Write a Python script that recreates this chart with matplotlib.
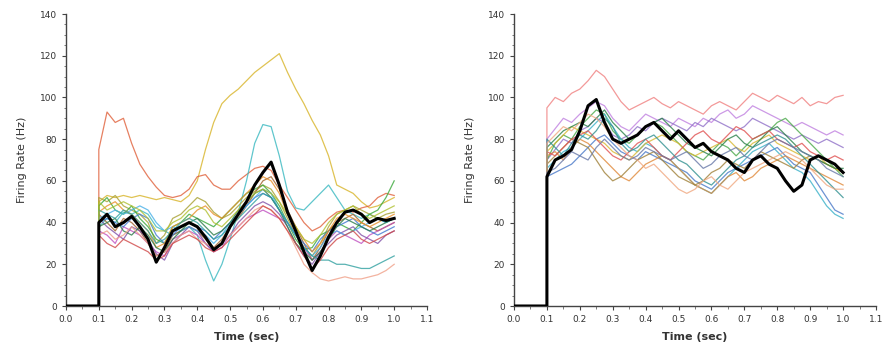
import numpy as np
import matplotlib
matplotlib.use('Agg')
import matplotlib.pyplot as plt
from matplotlib.ticker import MultipleLocator

# time grid of the traces (sec), sampled every 0.025 s from stimulus onset
t = np.round(np.arange(0.1, 1.0001, 0.025), 3)

# ── Left panel: firing rates (Hz) ──────────────────────────────────────────
L_black  = [40, 44, 38, 40, 43, 38, 32, 21, 28, 36, 38, 40, 38, 33, 27, 30, 38, 44, 50, 58,
            64, 69, 58, 45, 36, 26, 17, 24, 33, 40, 45, 46, 44, 40, 42, 41, 42]
L_yellow = [50, 53, 52, 53, 52, 53, 52, 51, 52, 51, 50, 53, 60, 75, 88, 97, 101, 104, 108, 112,
            115, 118, 121, 112, 104, 97, 89, 82, 72, 58, 56, 54, 50, 47, 48, 50, 52]
L_red    = [75, 93, 88, 90, 78, 68, 62, 57, 53, 52, 53, 56, 62, 63, 58, 56, 56, 60, 63, 66,
            67, 65, 58, 52, 46, 40, 36, 38, 42, 45, 46, 45, 47, 48, 52, 54, 53]
L_cyan   = [38, 42, 40, 45, 44, 46, 44, 38, 36, 34, 36, 38, 34, 22, 12, 20, 32, 45, 60, 78,
            87, 86, 72, 55, 47, 46, 50, 54, 58, 52, 46, 44, 42, 44, 42, 40, 42]
L_olive  = [52, 50, 53, 48, 46, 44, 40, 30, 34, 42, 44, 48, 52, 50, 45, 42, 44, 48, 52, 55,
            58, 56, 50, 42, 34, 28, 24, 30, 38, 44, 46, 48, 46, 44, 42, 44, 45]
L_green  = [48, 52, 46, 44, 48, 42, 38, 32, 30, 38, 40, 44, 42, 40, 38, 42, 46, 50, 54, 56,
            58, 54, 48, 40, 32, 27, 28, 34, 36, 40, 38, 36, 40, 44, 46, 52, 60]
L_brown  = [44, 40, 36, 42, 40, 36, 30, 24, 26, 34, 36, 38, 36, 32, 28, 32, 38, 42, 48, 54,
            60, 62, 56, 46, 38, 30, 22, 28, 36, 40, 42, 44, 40, 38, 36, 38, 40]
L_magenta = [36, 34, 30, 38, 36, 34, 30, 26, 24, 32, 34, 36, 34, 30, 26, 28, 34, 38, 42, 44,
             46, 44, 42, 40, 34, 28, 22, 26, 32, 36, 34, 32, 30, 34, 36, 38, 40]
L_purple = [42, 38, 35, 32, 38, 36, 32, 25, 22, 30, 34, 38, 36, 30, 26, 30, 34, 40, 44, 48,
            50, 48, 44, 38, 30, 24, 20, 26, 30, 34, 36, 38, 34, 32, 30, 34, 36]
L_blue   = [40, 42, 40, 38, 42, 44, 42, 34, 30, 34, 38, 40, 38, 36, 32, 36, 40, 44, 48, 52,
            54, 52, 46, 40, 34, 30, 26, 32, 36, 38, 40, 42, 38, 36, 34, 36, 38]
L_sky    = [42, 44, 46, 44, 46, 48, 46, 40, 36, 38, 36, 38, 36, 34, 30, 34, 40, 44, 48, 52,
            56, 54, 46, 40, 34, 28, 24, 28, 34, 36, 34, 36, 38, 40, 42, 40, 42]
L_orange = [45, 48, 50, 46, 44, 40, 36, 28, 30, 38, 40, 42, 46, 48, 44, 42, 46, 50, 54, 58,
            62, 60, 54, 44, 38, 32, 26, 30, 36, 42, 44, 42, 40, 38, 40, 42, 44]
L_dkgreen = [38, 40, 42, 36, 34, 38, 34, 28, 26, 32, 36, 40, 42, 38, 34, 36, 40, 46, 50, 54,
             56, 52, 46, 38, 30, 26, 22, 26, 32, 38, 42, 40, 38, 36, 38, 40, 42]
L_peach  = [34, 36, 32, 34, 38, 34, 30, 24, 26, 30, 34, 36, 32, 30, 28, 30, 34, 38, 42, 46,
            48, 46, 42, 36, 28, 20, 16, 13, 12, 13, 14, 13, 13, 14, 15, 17, 20]
L_teal   = [46, 44, 42, 46, 44, 40, 36, 30, 32, 36, 40, 42, 40, 36, 32, 34, 38, 42, 46, 50,
            54, 52, 46, 40, 34, 28, 24, 22, 22, 20, 20, 19, 18, 18, 20, 22, 24]
L_lime   = [50, 46, 48, 50, 48, 46, 42, 36, 36, 40, 42, 46, 48, 46, 40, 38, 42, 46, 50, 54,
            56, 54, 50, 44, 38, 32, 30, 34, 40, 44, 46, 48, 44, 42, 44, 46, 48]
L_wine   = [34, 30, 28, 32, 30, 28, 26, 22, 24, 30, 32, 34, 32, 28, 26, 28, 32, 36, 40, 44,
            48, 46, 42, 36, 30, 24, 18, 22, 28, 32, 34, 36, 32, 30, 32, 34, 36]

# ── Right panel: firing rates (Hz) ─────────────────────────────────────────
R_black  = [62, 70, 72, 75, 84, 96, 99, 88, 80, 78, 80, 82, 86, 88, 84, 80, 84, 80, 76, 78,
            74, 72, 70, 66, 64, 70, 72, 68, 66, 60, 55, 58, 70, 72, 70, 68, 64]
R_pink   = [95, 100, 98, 102, 104, 108, 113, 110, 104, 98, 94, 96, 98, 100, 97, 95, 98, 96, 94, 92,
            96, 98, 96, 94, 98, 102, 100, 98, 101, 99, 97, 100, 96, 98, 97, 100, 101]
R_lavender = [80, 85, 90, 88, 92, 95, 98, 96, 90, 86, 84, 88, 92, 90, 88, 86, 90, 88, 86, 90,
              88, 92, 94, 90, 92, 96, 94, 92, 90, 88, 86, 88, 86, 84, 82, 84, 82]
R_purple = [70, 75, 80, 78, 84, 86, 90, 88, 82, 80, 82, 86, 84, 88, 90, 88, 86, 84, 88, 86,
            90, 88, 86, 84, 86, 90, 88, 86, 84, 82, 80, 82, 80, 78, 80, 78, 76]
R_green  = [70, 78, 82, 80, 86, 90, 94, 92, 84, 80, 78, 82, 86, 88, 86, 82, 78, 74, 72, 70,
            74, 78, 76, 72, 76, 80, 82, 84, 88, 90, 86, 82, 78, 74, 70, 66, 62]
R_blue   = [62, 64, 66, 68, 72, 76, 80, 82, 78, 74, 72, 70, 74, 72, 70, 68, 66, 64, 60, 58,
            56, 60, 64, 66, 68, 70, 72, 74, 76, 72, 68, 66, 64, 58, 52, 46, 44]
R_cyan   = [66, 70, 74, 76, 80, 84, 88, 92, 86, 80, 76, 74, 78, 76, 72, 70, 66, 62, 58, 56,
            54, 58, 62, 66, 70, 74, 76, 78, 74, 70, 66, 64, 60, 54, 48, 44, 42]
R_orange = [72, 74, 70, 76, 80, 78, 74, 70, 66, 62, 60, 64, 68, 70, 72, 70, 66, 62, 58, 56,
            54, 58, 62, 64, 60, 62, 66, 68, 70, 72, 70, 68, 66, 64, 62, 60, 58]
R_brown  = [68, 72, 76, 80, 78, 76, 70, 64, 60, 62, 66, 70, 72, 74, 70, 66, 62, 60, 58, 60,
            64, 66, 70, 68, 66, 70, 74, 72, 70, 68, 66, 70, 72, 70, 68, 66, 64]
R_yellow = [74, 78, 82, 86, 84, 82, 80, 78, 74, 72, 70, 74, 78, 80, 82, 80, 78, 74, 72, 74,
            76, 78, 80, 76, 74, 78, 80, 82, 78, 76, 74, 72, 70, 72, 68, 66, 64]
R_dkgreen = [76, 80, 84, 86, 88, 86, 90, 94, 88, 84, 80, 82, 86, 88, 90, 86, 82, 78, 76, 74,
             72, 76, 80, 82, 78, 76, 80, 84, 86, 82, 78, 74, 72, 70, 68, 66, 66]
R_red    = [74, 72, 76, 80, 82, 84, 80, 76, 72, 70, 74, 78, 80, 76, 72, 70, 74, 78, 82, 84,
            80, 78, 82, 86, 84, 80, 82, 84, 80, 78, 76, 78, 74, 72, 70, 72, 70]
R_teal   = [80, 76, 72, 78, 82, 80, 84, 90, 86, 78, 74, 76, 80, 82, 78, 74, 70, 68, 64, 60,
            58, 62, 66, 70, 72, 76, 78, 80, 82, 80, 76, 72, 68, 64, 60, 56, 52]
R_salmon = [78, 82, 86, 84, 88, 92, 90, 86, 80, 76, 72, 70, 66, 68, 64, 60, 56, 54, 56, 60,
            62, 58, 56, 60, 64, 66, 68, 70, 72, 74, 72, 70, 66, 62, 58, 56, 56]
R_slate  = [64, 66, 70, 74, 72, 70, 76, 80, 76, 72, 70, 72, 76, 74, 72, 70, 72, 74, 70, 66,
            68, 72, 74, 76, 72, 70, 74, 78, 80, 78, 76, 74, 72, 70, 66, 64, 62]

left_traces = [
    (L_yellow, '#d8b428'), (L_red, '#e0603a'), (L_cyan, '#38b8c0'),
    (L_olive, '#a8a030'), (L_green, '#3aa83a'), (L_brown, '#a0602a'),
    (L_magenta, '#c050c0'), (L_purple, '#8050a8'), (L_blue, '#4078d0'),
    (L_sky, '#48b0e8'), (L_orange, '#e89028'), (L_dkgreen, '#2a7a48'),
    (L_peach, '#f0a088'), (L_teal, '#30a0a0'), (L_lime, '#b0c030'),
    (L_wine, '#d04848'),
]
right_traces = [
    (R_pink, '#f08080'), (R_lavender, '#c080e0'), (R_purple, '#9070c8'),
    (R_green, '#48a848'), (R_blue, '#4878c8'), (R_cyan, '#38b0c8'),
    (R_orange, '#e08838'), (R_brown, '#a08038'), (R_yellow, '#d8b830'),
    (R_dkgreen, '#2a8048'), (R_red, '#e05050'), (R_teal, '#309090'),
    (R_salmon, '#f0a880'), (R_slate, '#6878a8'),
]

fig = plt.figure(figsize=(8.86, 3.52), dpi=100)
fig.patch.set_facecolor('white')
ax_l = fig.add_axes([66 / 886, 46 / 352, 361 / 886, 292 / 352])
ax_r = fig.add_axes([514 / 886, 46 / 352, 362 / 886, 292 / 352])


def draw_panel(ax, traces, black):
    # every trace is 0 Hz before onset at 0.1 s
    for vals, col in traces:
        ax.plot(np.r_[0.0, 0.1, t], np.r_[0, 0, vals], color=col, lw=0.9, alpha=0.8, zorder=2)
    ax.plot(np.r_[0.0, 0.1, t], np.r_[0, 0, black], color='black', lw=2.2, zorder=3)

    ax.set_xlim(0, 1.1)
    ax.set_ylim(0, 140)
    ax.xaxis.set_major_locator(MultipleLocator(0.1))
    ax.xaxis.set_minor_locator(MultipleLocator(0.05))
    ax.yaxis.set_major_locator(MultipleLocator(20))
    ax.yaxis.set_minor_locator(MultipleLocator(5))
    ax.set_xticklabels([f'{v:.1f}' for v in ax.get_xticks()])
    for s in ('top', 'right'):
        ax.spines[s].set_visible(False)
    for s in ('left', 'bottom'):
        ax.spines[s].set_color('#444444')
        ax.spines[s].set_linewidth(1.0)
    ax.tick_params(which='major', direction='out', length=3, width=0.8,
                   colors='#444444', labelsize=6.5, labelcolor='#333333')
    ax.tick_params(which='minor', direction='out', length=1.8, width=0.6, colors='#666666')
    ax.set_xlabel('Time (sec)', fontsize=8, fontweight='bold', color='#333333', labelpad=6)
    ax.set_ylabel('Firing Rate (Hz)', fontsize=8, color='#333333', labelpad=9)


draw_panel(ax_l, left_traces, L_black)
draw_panel(ax_r, right_traces, R_black)

plt.savefig('out.png', dpi=100, facecolor='white')
